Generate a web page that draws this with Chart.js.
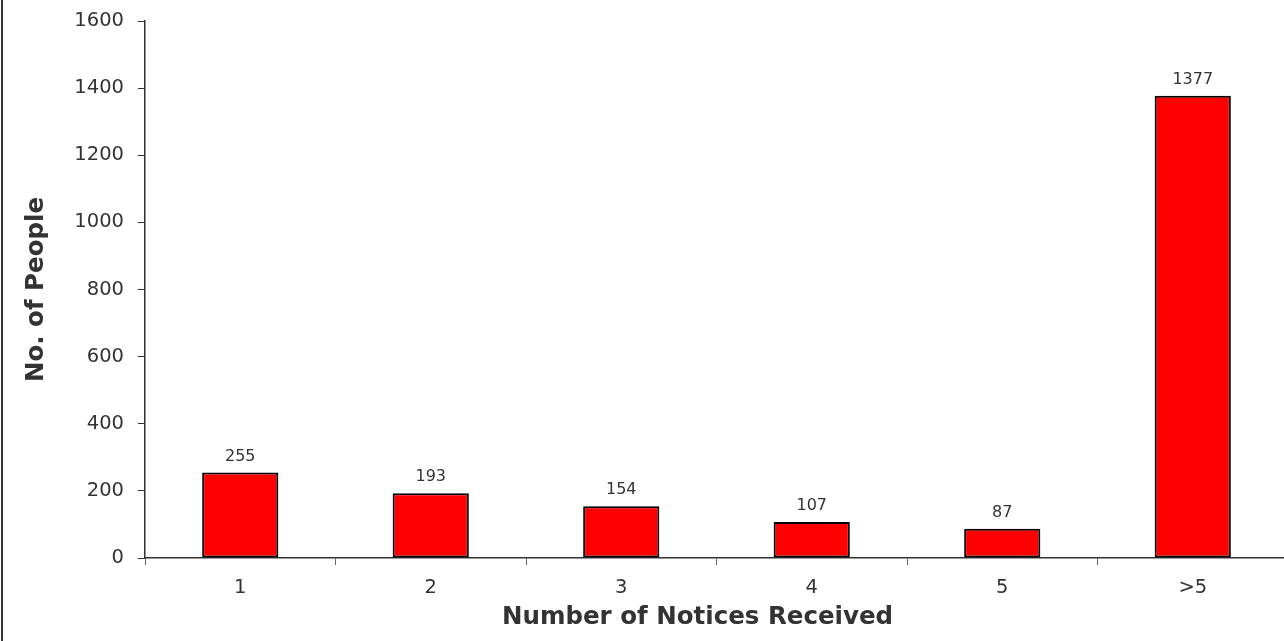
<!DOCTYPE html>
<html lang="en">
<head>
    <meta charset="UTF-8">
    <title>Number of Notices Received</title>
    <script src="https://cdn.jsdelivr.net/npm/chart.js"></script>
    <style>
        body {
            margin: 0;
            width: 1284px;
            height: 641px;
            overflow: hidden; /* plot runs a few px past the window, like the original */
            background: #fff;
        }
        .frame-edge {
            position: absolute;
            left: 1px;
            top: 0;
            width: 2px;
            height: 641px;
            background: #333;
        }
        .chart-box {
            position: absolute;
            left: 0;
            top: 0;
            width: 1290px;
            height: 641px;
        }
    </style>
</head>
<body>
    <div class="frame-edge"></div>
    <div class="chart-box">
        <canvas id="noticesChart"></canvas>
    </div>

    <script>
        // chart data
        const categories = ['1', '2', '3', '4', '5', '>5'];
        const people = [255, 193, 154, 107, 87, 1377];
        const yTicks = [0, 200, 400, 600, 800, 1000, 1200, 1400, 1600];
        const xTitle = 'Number of Notices Received';
        const yTitle = 'No. of People';

        const textColor = '#333';
        const fontFamily = '"DejaVu Sans", Verdana, sans-serif';

        // draws the value above each bar, and the x title (which sits a bit left of centre in the original)
        const valueLabels = {
            id: 'valueLabels',
            afterDatasetsDraw(chart) {
                const ctx = chart.ctx;
                const meta = chart.getDatasetMeta(0);
                const area = chart.chartArea;
                ctx.save();
                ctx.font = '16px ' + fontFamily;
                ctx.fillStyle = textColor;
                ctx.textAlign = 'center';
                ctx.textBaseline = 'bottom';
                meta.data.forEach((bar, i) => {
                    ctx.fillText(people[i], bar.x, bar.y - 8);
                });

                ctx.font = 'bold 24.5px ' + fontFamily;
                ctx.textBaseline = 'middle';
                ctx.fillText(xTitle, (area.left + area.right) / 2 - 19, area.bottom + 60);
                ctx.restore();
            }
        };

        const ctx = document.getElementById('noticesChart').getContext('2d');
        const noticesChart = new Chart(ctx, {
            type: 'bar',
            data: {
                labels: categories,
                datasets: [{
                    data: people,
                    backgroundColor: '#ff0000',
                    borderColor: '#000',
                    borderWidth: 2,
                    borderSkipped: false,
                    categoryPercentage: 0.4,
                    barPercentage: 1.0
                }]
            },
            options: {
                responsive: true,
                maintainAspectRatio: false,
                animation: false,
                layout: {
                    padding: { top: 21, left: 0, right: 2, bottom: 0 }
                },
                plugins: {
                    legend: { display: false },
                    tooltip: { enabled: false }
                },
                scales: {
                    x: {
                        offset: true,
                        afterFit(scale) { scale.height = 83; },
                        grid: {
                            offset: true,
                            drawOnChartArea: false,
                            drawTicks: true,
                            tickLength: 7,
                            color: '#666'
                        },
                        border: { color: '#333', width: 1.5 },
                        ticks: {
                            color: textColor,
                            padding: 11,
                            font: { family: fontFamily, size: 19.5 }
                        },
                        title: { display: false }
                    },
                    y: {
                        min: 0,
                        max: 1600,
                        afterFit(scale) {
                            scale.width = 145;
                            scale.paddingTop = 0;
                            scale.paddingBottom = 0;
                        },
                        afterBuildTicks(scale) {
                            scale.ticks = yTicks.map(v => ({ value: v }));
                        },
                        grid: {
                            drawOnChartArea: false,
                            drawTicks: true,
                            tickLength: 7,
                            color: '#333'
                        },
                        border: { color: '#333', width: 1.5 },
                        ticks: {
                            color: textColor,
                            padding: 14,
                            font: { family: fontFamily, size: 19.5 },
                            callback: value => String(value)
                        },
                        title: {
                            display: true,
                            text: yTitle,
                            color: textColor,
                            padding: { top: 22, bottom: 0 },
                            font: { family: fontFamily, size: 24.5, weight: 'bold' }
                        }
                    }
                }
            },
            plugins: [valueLabels]
        });
    </script>
</body>
</html>
